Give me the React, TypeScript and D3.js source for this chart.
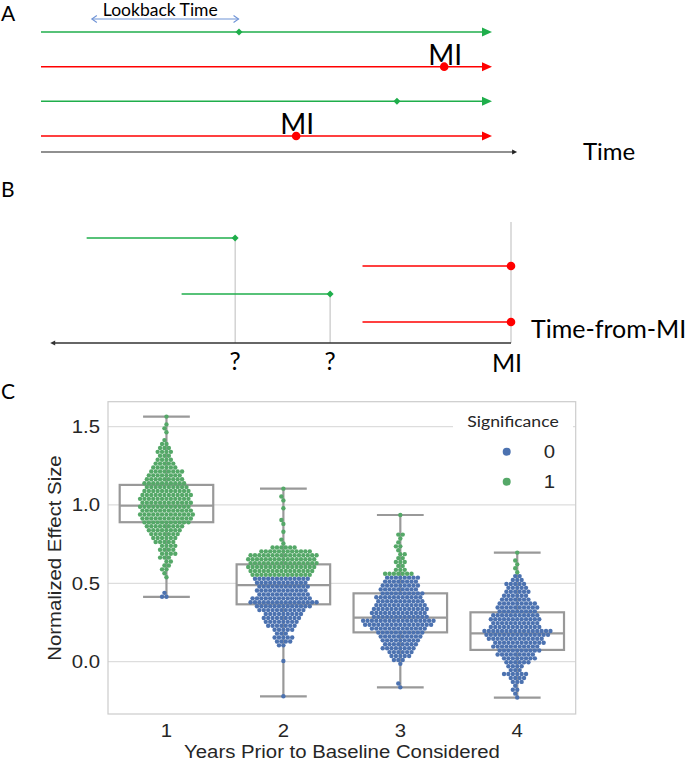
import React from "react";
import * as d3 from "d3";

// ---- Panel A: follow-up timelines (time as fraction of follow-up) ----
const timelineKinds = ["control", "case", "control", "case"];
const timelineEvents = [0.44, 0.896, 0.791, 0.567];
const lookbackWindow = [0.113, 0.439];
const followUpEnd = 1.0;
const timeAxisEnd = 1.058;

// ---- Panel B: windows re-aligned on time-from-MI ----
const alignedKinds = ["control", "case", "control", "case"];
const alignedEvents = [0.613, 0, 0.402, 0];
const lookbackLength = 0.33;
const alignedAxisEnd = 1.024;

// ---- Panel C: swarm + box plot ----
const years = [1, 2, 3, 4];
const binStep = 0.025;
const binStart = [0.414, -0.221, -0.164, -0.229];
// number of points per value bin, bottom to top
const year1Counts = [2, 1, 0, 0, 0, 1, 1, 2, 2, 2, 3, 4, 4, 4, 5, 6, 7, 8, 9, 11, 12, 13, 12, 12, 12, 12, 12, 11, 10, 10, 9, 8, 8, 6, 5, 4, 3, 4, 3, 2, 1, 0, 1, 1, 1, 0, 1];
const year2Counts = [1, 0, 0, 0, 0, 0, 0, 0, 0, 1, 0, 0, 0, 2, 4, 5, 3, 5, 7, 8, 9, 9, 11, 13, 16, 14, 12, 12, 12, 12, 13, 14, 15, 16, 16, 16, 16, 12, 6, 1, 1, 0, 1, 0, 1, 1, 0, 0, 1, 0, 1, 1, 0, 1];
const year3Counts = [1, 1, 0, 0, 0, 0, 1, 3, 5, 6, 8, 8, 9, 10, 11, 13, 16, 17, 13, 13, 13, 12, 11, 11, 10, 9, 9, 8, 8, 7, 3, 2, 3, 2, 2, 1, 2, 1, 1, 2, 0, 0, 0, 0, 1];
const year4Counts = [1, 1, 2, 1, 3, 4, 6, 3, 4, 6, 8, 9, 10, 11, 12, 13, 15, 16, 12, 11, 12, 11, 9, 10, 9, 7, 6, 6, 5, 5, 3, 2, 1, 1, 1, 1, 0, 1];
const yearCounts = [year1Counts, year2Counts, year3Counts, year4Counts];
const sigCutoff = [0.45, 0.54, 0.545, 0.56];
const boxQ1 = [0.89, 0.366, 0.187, 0.075];
const boxMedian = [0.996, 0.489, 0.281, 0.181];
const boxQ3 = [1.128, 0.621, 0.436, 0.315];
const yTicks = [0, 0.5, 1.0, 1.5];
const legendLevels = ["0", "1"];

const LATO = "Lato, 'Open Sans', sans-serif";
const ARIAL = "'Liberation Sans', Arial, sans-serif";
const LINE_GREEN = "#1fae4b";
const RED = "#ff0000";
const BLUE = "#4c72b0";
const GREEN = "#55a868";
const TEXT = "#262626";

function expand(start: number, counts: number[]) {
  const out: number[] = [];
  counts.forEach((c, i) => {
    for (let k = 0; k < c; k++) out.push(+(start + i * binStep).toFixed(3));
  });
  return out;
}

// seaborn-style beeswarm: place each point as close to the centre as possible
function beeswarm(ys: number[], d: number) {
  const placed: { x: number; y: number }[] = [];
  return ys.map((y) => {
    const near = placed.filter((p) => Math.abs(p.y - y) < d);
    const cands = [0];
    near.forEach((p) => {
      const dx = Math.sqrt(d * d - (p.y - y) ** 2);
      cands.push(p.x - dx, p.x + dx);
    });
    cands.sort((a, b) => Math.abs(a) - Math.abs(b));
    let best = 0;
    for (const c of cands) {
      if (near.every((p) => (p.x - c) ** 2 + (p.y - y) ** 2 >= d * d - 1e-6)) {
        best = c;
        break;
      }
    }
    placed.push({ x: best, y });
    return best;
  });
}

const triRight = (x: number, y: number, l: number, h: number) =>
  `M${x},${y}L${x - l},${y - h}L${x - l},${y + h}Z`;
const triLeft = (x: number, y: number, l: number, h: number) =>
  `M${x},${y}L${x + l},${y - h}L${x + l},${y + h}Z`;
const diamond = (x: number, y: number, s: number) =>
  `M${x},${y - s}L${x + s},${y}L${x},${y + s}L${x - s},${y}Z`;

function PanelA() {
  const x = d3.scaleLinear().domain([0, 1]).range([41, 491]);
  const row = d3.scalePoint<number>().domain([0, 1, 2, 3]).range([32, 136]);
  const lbY = 19;
  const x0 = x(lookbackWindow[0]);
  const x1 = x(lookbackWindow[1]);
  return (
    <g>
      <text x={1} y={21} fontFamily={LATO} fontSize={21} fill="#000">A</text>
      <text x={x0 + 11} y={16} fontFamily={LATO} fontSize={17.5} fill="#000">Lookback Time</text>
      <g stroke="#6f93d6" strokeWidth={1.1} fill="none">
        <line x1={x0} x2={x1} y1={lbY} y2={lbY} />
        <path d={`M${x0 + 5},${lbY - 3.5}L${x0},${lbY}L${x0 + 5},${lbY + 3.5}`} />
        <path d={`M${x1 - 5},${lbY - 3.5}L${x1},${lbY}L${x1 - 5},${lbY + 3.5}`} />
      </g>
      {timelineKinds.map((k, i) => {
        const y = row(i)!;
        const c = k === "case" ? RED : LINE_GREEN;
        const ex = x(timelineEvents[i]);
        return (
          <g key={i}>
            <line x1={x(0)} x2={x(followUpEnd) - 6} y1={y} y2={y} stroke={c} strokeWidth={1.5} />
            <path d={triRight(x(followUpEnd) + 1, y, 10, 4.5)} fill={c} />
            {k === "case" ? (
              <>
                <text x={ex - 16} y={y - 2} fontFamily={LATO} fontSize={28} fill="#000">MI</text>
                <circle cx={ex} cy={y} r={4.3} fill={RED} />
              </>
            ) : (
              <path d={diamond(ex, y, 3.5)} fill={LINE_GREEN} />
            )}
          </g>
        );
      })}
      <line x1={x(0)} x2={x(timeAxisEnd) - 3} y1={152} y2={152} stroke="#222" strokeWidth={1.2} />
      <path d={triRight(x(timeAxisEnd), 152, 5, 2.5)} fill="#222" />
      <text x={583} y={160} fontFamily={LATO} fontSize={24} fill="#000">Time</text>
    </g>
  );
}

function PanelB() {
  const x = d3.scaleLinear().domain([0, 1]).range([511, 61]);
  const row = d3.scalePoint<number>().domain([0, 1, 2, 3]).range([238, 322]);
  const axisY = 343;
  return (
    <g>
      <text x={1} y={197} fontFamily={LATO} fontSize={21} fill="#000">B</text>
      <line x1={x(0)} x2={x(0)} y1={row(0)! - 16} y2={axisY} stroke="#aaa" strokeWidth={0.8} />
      {alignedKinds.map((k, i) => {
        const y = row(i)!;
        const e = alignedEvents[i];
        const c = k === "case" ? RED : LINE_GREEN;
        return (
          <g key={i}>
            {k === "control" && (
              <>
                <line x1={x(e)} x2={x(e)} y1={y} y2={axisY} stroke="#aaa" strokeWidth={0.8} />
                <text x={x(e)} y={370} textAnchor="middle" fontFamily={LATO} fontSize={25} fill="#000">?</text>
              </>
            )}
            <line x1={x(e + lookbackLength)} x2={x(e)} y1={y} y2={y} stroke={c} strokeWidth={1.5} />
            {k === "case" ? (
              <circle cx={x(e)} cy={y} r={4.3} fill={RED} />
            ) : (
              <path d={diamond(x(e), y, 3.5)} fill={LINE_GREEN} />
            )}
          </g>
        );
      })}
      <line x1={x(0)} x2={x(alignedAxisEnd) + 3} y1={axisY} y2={axisY} stroke="#333" strokeWidth={1.4} />
      <path d={triLeft(x(alignedAxisEnd), axisY, 5, 2.5)} fill="#333" />
      <text x={531} y={338} fontFamily={LATO} fontSize={25} fill="#000">Time-from-MI</text>
      <text x={x(0) - 4} y={372} textAnchor="middle" fontFamily={LATO} fontSize={25} fill="#000">MI</text>
    </g>
  );
}

function PanelC() {
  const left = 108, right = 575.7, top = 401.7, bottom = 714;
  const x = d3.scaleBand<number>().domain(years).range([left, right]).padding(0);
  const y = d3.scaleLinear().domain([-0.334, 1.659]).range([bottom, top]);
  const boxW = x.bandwidth() * 0.8;
  const r = 2.2;
  const sx = "scale(1.1,1)";
  return (
    <g>
      <text x={1} y={399} fontFamily={LATO} fontSize={21} fill="#000">C</text>
      {yTicks.map((t) => (
        <g key={t}>
          <line x1={left} x2={right} y1={y(t)} y2={y(t)} stroke="#dddddd" strokeWidth={1.2} />
          <text transform={`translate(${left - 8},${y(t) + 6.5}) ${sx}`} textAnchor="end" fontFamily={ARIAL} fontSize={18.5} fill={TEXT}>
            {d3.format(".1f")(t)}
          </text>
        </g>
      ))}
      <rect x={left} y={top} width={right - left} height={bottom - top} fill="none" stroke="#cccccc" strokeWidth={1.2} />
      {years.map((yr, i) => {
        const vals = expand(binStart[i], yearCounts[i]);
        const cx = x(yr)! + x.bandwidth() / 2;
        const lo = d3.min(vals)!;
        const hi = d3.max(vals)!;
        const ys = vals.map((v) => y(v));
        const offs = beeswarm(ys, 2 * r);
        return (
          <g key={yr}>
            <g stroke="#999999" strokeWidth={2.2} fill="none">
              <line x1={cx} x2={cx} y1={y(hi)} y2={y(boxQ3[i])} />
              <line x1={cx} x2={cx} y1={y(boxQ1[i])} y2={y(lo)} />
              <line x1={cx - boxW / 4} x2={cx + boxW / 4} y1={y(hi)} y2={y(hi)} />
              <line x1={cx - boxW / 4} x2={cx + boxW / 4} y1={y(lo)} y2={y(lo)} />
              <rect x={cx - boxW / 2} y={y(boxQ3[i])} width={boxW} height={y(boxQ1[i]) - y(boxQ3[i])} fill="#fff" />
              <line x1={cx - boxW / 2} x2={cx + boxW / 2} y1={y(boxMedian[i])} y2={y(boxMedian[i])} />
            </g>
            {vals.map((v, j) => (
              <circle key={j} cx={cx + offs[j]} cy={ys[j]} r={r} fill={v >= sigCutoff[i] ? GREEN : BLUE} />
            ))}
            <text transform={`translate(${cx},737) ${sx}`} textAnchor="middle" fontFamily={ARIAL} fontSize={18.5} fill={TEXT}>
              {yr}
            </text>
          </g>
        );
      })}
      <rect x={453} y={403} width={120} height={95} fill="#fff" />
      <text transform={`translate(513,426.5) ${sx}`} textAnchor="middle" fontFamily={LATO} fontSize={16} fill={TEXT}>Significance</text>
      {legendLevels.map((l, i) => (
        <g key={l}>
          <circle cx={506.7} cy={451.7 + i * 30} r={4} fill={i === 0 ? BLUE : GREEN} />
          <text transform={`translate(555,${458.3 + i * 30}) ${sx}`} textAnchor="end" fontFamily={ARIAL} fontSize={18.5} fill={TEXT}>{l}</text>
        </g>
      ))}
      <text transform={`translate(61,558) rotate(-90) ${sx}`} textAnchor="middle" fontFamily={ARIAL} fontSize={18.5} fill={TEXT}>
        Normalized Effect Size
      </text>
      <text transform={`translate(342,758) ${sx}`} textAnchor="middle" fontFamily={ARIAL} fontSize={18.5} fill={TEXT}>
        Years Prior to Baseline Considered
      </text>
    </g>
  );
}

export default function App() {
  return (
    <svg width={685} height={761} style={{ position: "absolute", left: 0, top: 0, background: "#fff" }}>
      <PanelA />
      <PanelB />
      <PanelC />
    </svg>
  );
}
